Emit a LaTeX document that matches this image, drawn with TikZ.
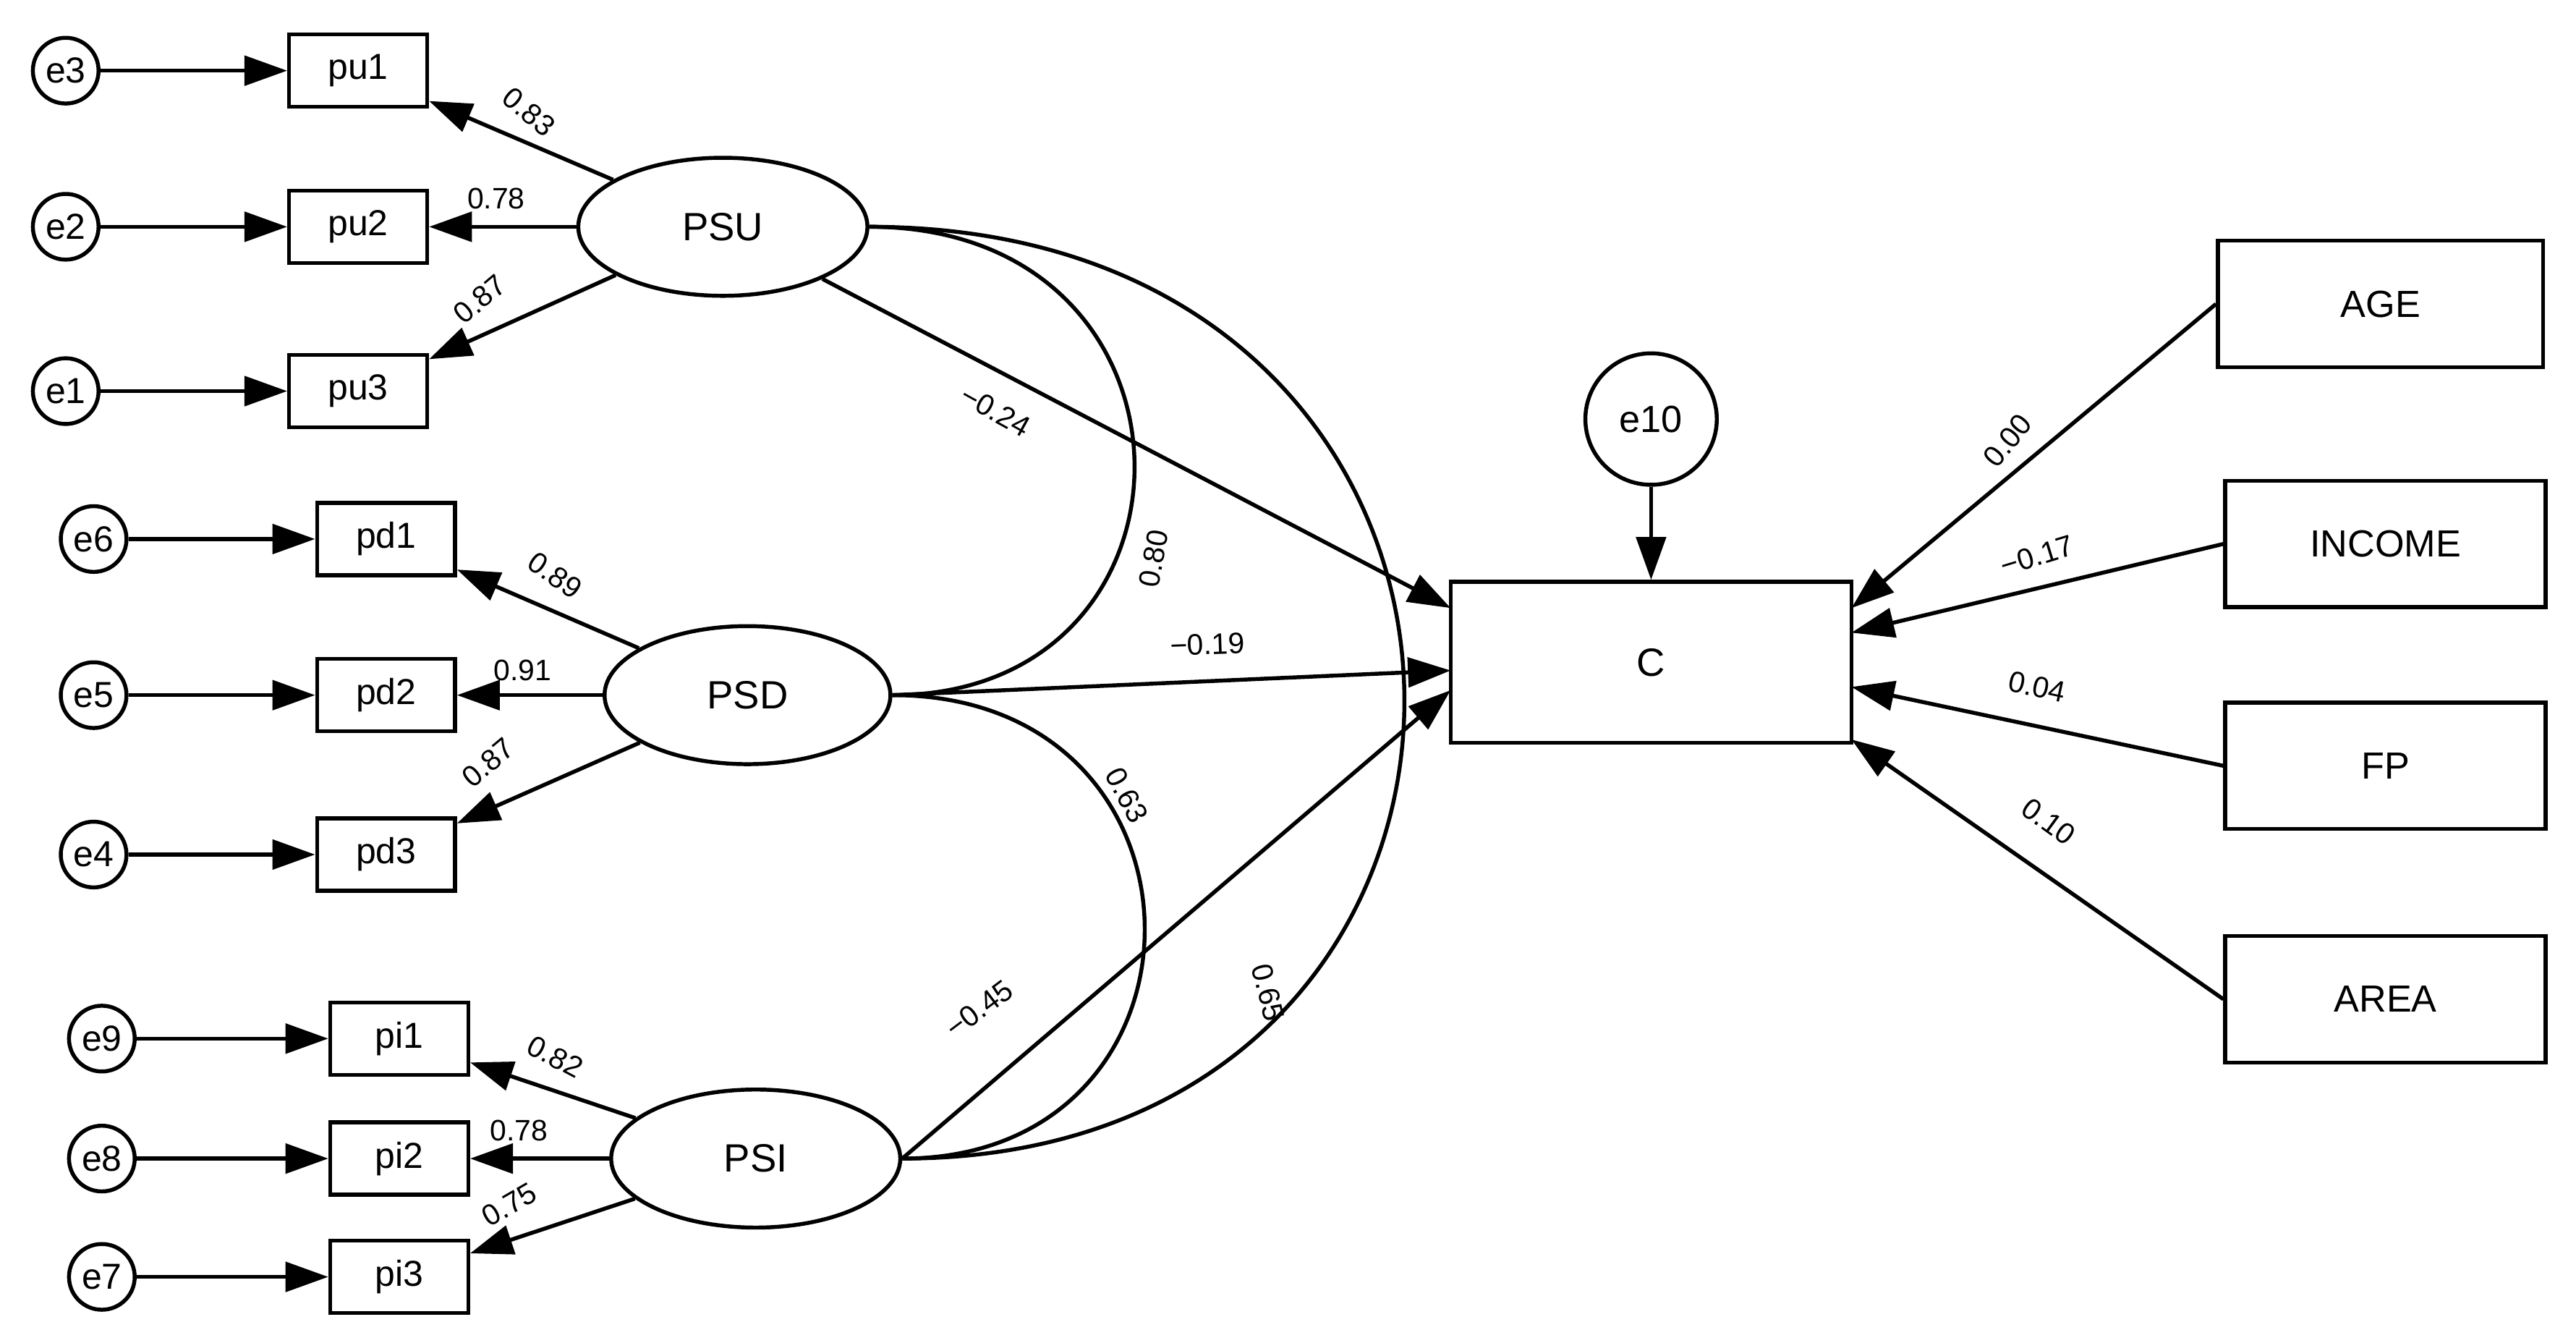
\documentclass[tikz,border=0pt]{standalone}
\usepackage{fontspec}
\setmainfont{Liberation Sans}
\usetikzlibrary{arrows.meta,shapes.geometric}
\begin{document}
\begin{tikzpicture}[x=1pt,y=-1pt,line width=2.4pt,
  arr/.style={-{Triangle[length=26pt,width=18pt]}},
  err/.style={circle,draw,minimum size=40pt,inner sep=0pt,font=\fontsize{22}{24}\selectfont},
  obs/.style={rectangle,draw,minimum width=84pt,minimum height=44pt,inner sep=0pt,font=\fontsize{22}{24}\selectfont},
  big/.style={rectangle,draw,minimum width=196pt,minimum height=77pt,inner sep=0pt,font=\fontsize{23}{25}\selectfont},
  lat/.style={ellipse,draw,minimum height=84pt,inner sep=0pt,font=\fontsize{24}{26}\selectfont},
  lab/.style={font=\fontsize{18}{20}\selectfont,inner sep=0pt}]
\useasboundingbox (0,0) rectangle (1568,817);
\foreach \e/\o/\x/\ox/\y in {e3/pu1/40/218/43, e2/pu2/40/218/138, e1/pu3/40/218/238,
  e6/pd1/57/235/328, e5/pd2/57/235/423, e4/pd3/57/235/520,
  e9/pi1/62/243/632, e8/pi2/62/243/705, e7/pi3/62/243/777}{
  \node[err] (\e) at (\x,\y) {\e};
  \node[obs] (\o) at (\ox,\y) {\o};
  \draw[arr] (\e) -- (\o);
}
\node[lat,minimum width=176pt] (PSU) at (440,138) {PSU};
\node[lat,minimum width=174pt] (PSD) at (455,423) {PSD};
\node[lat,minimum width=176pt] (PSI) at (460,705) {PSI};
\node[rectangle,draw,minimum width=244pt,minimum height=98pt,inner sep=0pt,font=\fontsize{24}{26}\selectfont] (C) at (1005,403) {C};
\node[circle,draw,minimum size=80pt,inner sep=0pt,font=\fontsize{23}{25}\selectfont] (e10) at (1005,255) {e10};
\node[big,minimum width=198pt] (AGE) at (1449,185) {AGE};
\node[big,minimum width=195pt] (INCOME) at (1452,331) {INCOME};
\node[big,minimum width=195pt] (FP) at (1452,466) {FP};
\node[big,minimum width=195pt] (AREA) at (1452,608) {AREA};
\foreach \l/\o in {PSU/pu1,PSU/pu2,PSU/pu3,PSD/pd1,PSD/pd2,PSD/pd3,PSI/pi1,PSI/pi2,PSI/pi3}
  \draw[arr] (\l) -- (\o);
\coordinate (cU) at (883,370);
\coordinate (cD) at (883,408);
\coordinate (cI) at (883,420);
\draw[arr] (PSU) -- (cU);
\draw[arr] (PSD.east) -- (cD);
\draw[arr] (PSI.east) -- (cI);
\draw[arr] (e10) -- (C.north);
\coordinate (c1) at (1127,370);
\coordinate (c2) at (1127,385);
\coordinate (c3) at (1127,418);
\coordinate (c4) at (1127,450);
\draw[arr] (AGE.west) -- (c1);
\draw[arr] (INCOME.west) -- (c2);
\draw[arr] (FP.west) -- (c3);
\draw[arr] (AREA.west) -- (c4);
\draw (PSU.east) .. controls (742,138) and (742,423) .. (PSD.east);
\draw (PSD.east) .. controls (747,423) and (747,705) .. (PSI.east);
\draw (PSU.east) .. controls (960,138) and (960,705) .. (PSI.east);
\node[lab,rotate=-40] (l1) at (322,68) {0.83};
\node[lab] (l2) at (302,121) {0.78};
\node[lab,rotate=40] (l3) at (292,182) {0.87};
\node[lab,rotate=-35] (l4) at (338,350) {0.89};
\node[lab] (l5) at (318,408) {0.91};
\node[lab,rotate=40] (l6) at (297,464) {0.87};
\node[lab,rotate=-28] (l7) at (338,643) {0.82};
\node[lab] (l8) at (316,688) {0.78};
\node[lab,rotate=30] (l9) at (310,733) {0.75};
\node[lab,rotate=-29] (l10) at (606,250) {−0.24};
\node[lab,rotate=80] (l11) at (702,340) {0.80};
\node[lab,rotate=2] (l12) at (735,392) {−0.19};
\node[lab,rotate=-62] (l13) at (686,484) {0.63};
\node[lab,rotate=-76] (l14) at (772,604) {0.65};
\node[lab,rotate=37] (l15) at (596,614) {−0.45};
\node[lab,rotate=50] (l16) at (1222,268) {0.00};
\node[lab,rotate=17] (l17) at (1240,338) {−0.17};
\node[lab,rotate=-12] (l18) at (1240,418) {0.04};
\node[lab,rotate=-36] (l19) at (1247,500) {0.10};
\end{tikzpicture}
\end{document}
